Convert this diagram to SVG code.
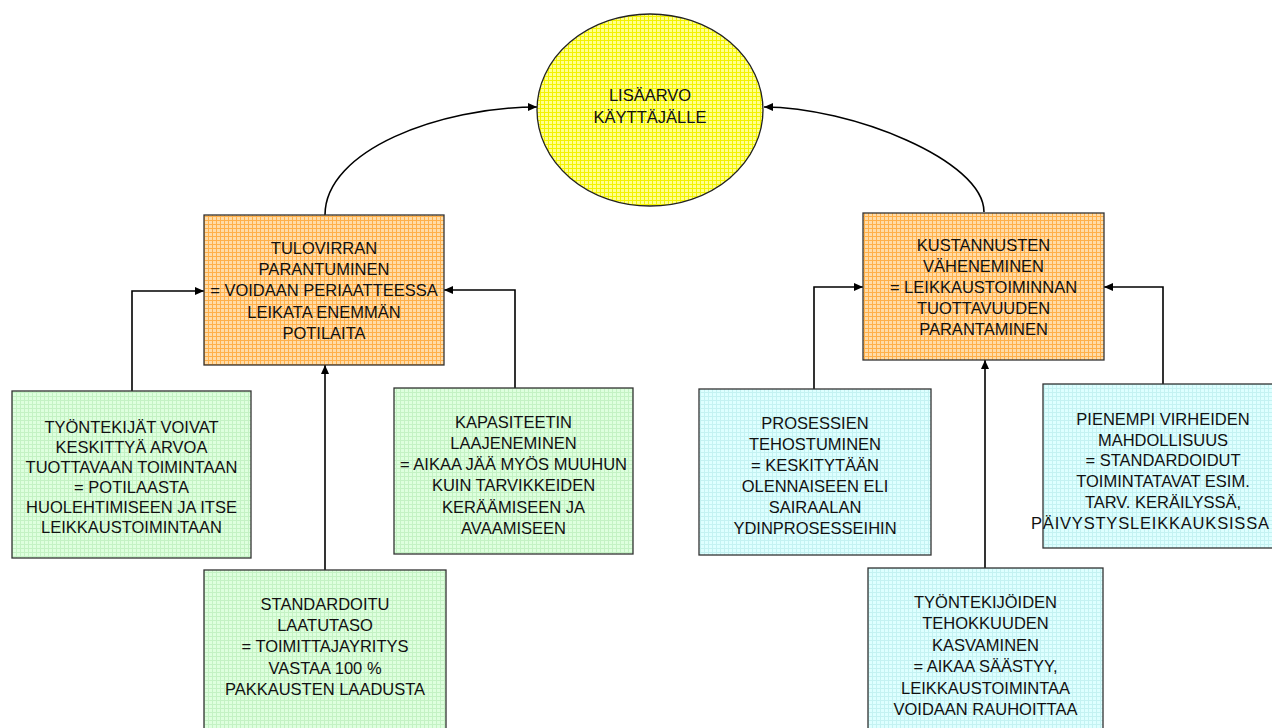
<svg xmlns="http://www.w3.org/2000/svg" width="1272" height="728" viewBox="0 0 1272 728">
  <style>
    text { font-family: "Liberation Sans", Arial, sans-serif; font-size: 16.5px; fill: #111; text-anchor: middle; }
    .box { stroke: #333; stroke-width: 1.3; }
    .conn { fill: none; stroke: #000; stroke-width: 1.6; marker-end: url(#arrow); }
  </style>
  <defs>
    <marker id="arrow" markerUnits="userSpaceOnUse" markerWidth="9" markerHeight="8" refX="9" refY="4" orient="auto">
      <path d="M0,0 L9,4 L0,8 z" fill="#000"/>
    </marker>
    <!-- grid textures for the node fills -->
    <pattern id="gridOrange" patternUnits="userSpaceOnUse" width="4" height="4">
      <rect width="4" height="4" fill="#FFDCA8"/>
      <path d="M0,0.5 H4 M0.5,0 V4" stroke="#FFB04A" stroke-width="1"/>
    </pattern>
    <pattern id="gridYellow" patternUnits="userSpaceOnUse" width="4" height="4">
      <rect width="4" height="4" fill="#FFFF8C"/>
      <path d="M0,0.5 H4 M0.5,0 V4" stroke="#F2F200" stroke-width="1"/>
    </pattern>
    <pattern id="gridGreen" patternUnits="userSpaceOnUse" width="4" height="4">
      <rect width="4" height="4" fill="#DEFFDE"/>
      <path d="M0,0.5 H4 M0.5,0 V4" stroke="#C4F2C4" stroke-width="1"/>
    </pattern>
    <pattern id="gridCyan" patternUnits="userSpaceOnUse" width="4" height="4">
      <rect width="4" height="4" fill="#DEFFFF"/>
      <path d="M0,0.5 H4 M0.5,0 V4" stroke="#C4F2F2" stroke-width="1"/>
    </pattern>
  </defs>

  <rect width="1272" height="728" fill="#fff"/>

  <!-- connectors -->
  <g id="connectors">
    <path class="conn" d="M325,215 C325,150 440,107 537,107"/>
    <path class="conn" d="M984,212 C984,160 850,107 764,107"/>
    <path class="conn" d="M132,391 V291 H204"/>
    <path class="conn" d="M515,388 V290 H444"/>
    <path class="conn" d="M325,570 V365"/>
    <path class="conn" d="M814,389 V287 H863"/>
    <path class="conn" d="M1163,384 V287 H1104"/>
    <path class="conn" d="M985,568 V360"/>
  </g>

  <g id="lisaarvo">
    <ellipse cx="650" cy="110" rx="113" ry="96" fill="url(#gridYellow)" stroke="#222" stroke-width="1.3"/>
    <text x="650" y="101">LISÄARVO</text>
    <text x="650" y="122.5">KÄYTTÄJÄLLE</text>
  </g>

  <g id="tulovirta">
    <rect class="box" x="204" y="215" width="240" height="150" fill="url(#gridOrange)"/>
    <text x="324" y="254">TULOVIRRAN</text>
    <text x="324" y="275.2">PARANTUMINEN</text>
    <text x="324" y="296.4">= VOIDAAN PERIAATTEESSA</text>
    <text x="324" y="317.6">LEIKATA ENEMMÄN</text>
    <text x="324" y="338.8">POTILAITA</text>
  </g>

  <g id="kustannukset">
    <rect class="box" x="863" y="213" width="241" height="147" fill="url(#gridOrange)"/>
    <text x="983.5" y="251">KUSTANNUSTEN</text>
    <text x="983.5" y="272">VÄHENEMINEN</text>
    <text x="983.5" y="293">= LEIKKAUSTOIMINNAN</text>
    <text x="983.5" y="314">TUOTTAVUUDEN</text>
    <text x="983.5" y="335">PARANTAMINEN</text>
  </g>

  <g id="tyontekijat">
    <rect class="box" x="12" y="391" width="239" height="167" fill="url(#gridGreen)"/>
    <text x="131.5" y="433">TYÖNTEKIJÄT VOIVAT</text>
    <text x="131.5" y="453">KESKITTYÄ ARVOA</text>
    <text x="131.5" y="473">TUOTTAVAAN TOIMINTAAN</text>
    <text x="131.5" y="493">= POTILAASTA</text>
    <text x="131.5" y="513">HUOLEHTIMISEEN JA ITSE</text>
    <text x="131.5" y="533">LEIKKAUSTOIMINTAAN</text>
  </g>

  <g id="kapasiteetti">
    <rect class="box" x="394" y="388" width="239" height="166" fill="url(#gridGreen)"/>
    <text x="513.5" y="427.5">KAPASITEETIN</text>
    <text x="513.5" y="448.8">LAAJENEMINEN</text>
    <text x="513.5" y="470.1">= AIKAA JÄÄ MYÖS MUUHUN</text>
    <text x="513.5" y="491.4">KUIN TARVIKKEIDEN</text>
    <text x="513.5" y="512.7">KERÄÄMISEEN JA</text>
    <text x="513.5" y="534">AVAAMISEEN</text>
  </g>

  <g id="laatutaso">
    <rect class="box" x="204" y="570" width="242" height="170" fill="url(#gridGreen)"/>
    <text x="325" y="610">STANDARDOITU</text>
    <text x="325" y="631.2">LAATUTASO</text>
    <text x="325" y="652.4">= TOIMITTAJAYRITYS</text>
    <text x="325" y="673.6">VASTAA 100 %</text>
    <text x="325" y="694.8">PAKKAUSTEN LAADUSTA</text>
  </g>

  <g id="prosessit">
    <rect class="box" x="699" y="389" width="232" height="166" fill="url(#gridCyan)"/>
    <text x="815" y="429">PROSESSIEN</text>
    <text x="815" y="450">TEHOSTUMINEN</text>
    <text x="815" y="471">= KESKITYTÄÄN</text>
    <text x="815" y="492">OLENNAISEEN ELI</text>
    <text x="815" y="513">SAIRAALAN</text>
    <text x="815" y="534">YDINPROSESSEIHIN</text>
  </g>

  <g id="virheet">
    <rect class="box" x="1043" y="384" width="240" height="164" fill="url(#gridCyan)"/>
    <text x="1163" y="425">PIENEMPI VIRHEIDEN</text>
    <text x="1163" y="445.7">MAHDOLLISUUS</text>
    <text x="1163" y="466.4">= STANDARDOIDUT</text>
    <text x="1163" y="487.1">TOIMINTATAVAT ESIM.</text>
    <text x="1163" y="507.8">TARV. KERÄILYSSÄ,</text>
    <text x="1031" y="528.5" style="text-anchor:start" textLength="238" lengthAdjust="spacing">PÄIVYSTYSLEIKKAUKSISSA</text>
  </g>

  <g id="tehokkuus">
    <rect class="box" x="868" y="568" width="235" height="172" fill="url(#gridCyan)"/>
    <text x="985.5" y="607.5">TYÖNTEKIJÖIDEN</text>
    <text x="985.5" y="629">TEHOKKUUDEN</text>
    <text x="985.5" y="650.5">KASVAMINEN</text>
    <text x="985.5" y="672">= AIKAA SÄÄSTYY,</text>
    <text x="985.5" y="693.5">LEIKKAUSTOIMINTAA</text>
    <text x="985.5" y="715">VOIDAAN RAUHOITTAA</text>
  </g>
</svg>
